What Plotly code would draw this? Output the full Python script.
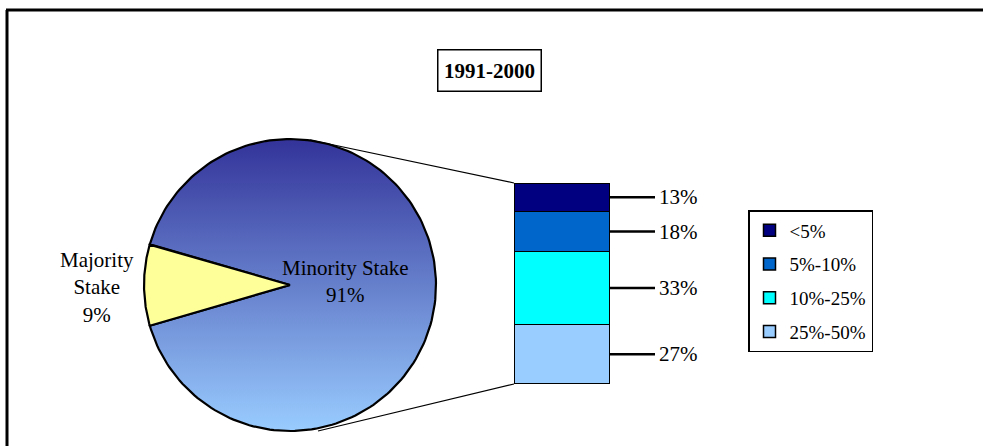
import numpy as np
import plotly.graph_objects as go

# ---- data ----
pie_labels = ["Majority Stake", "Minority Stake"]
pie_values = [9, 91]
bar_categories = ["25%-50%", "10%-25%", "5%-10%", "<5%"]   # bottom -> top
bar_values = [27, 33, 18, 13]
bar_colors = ["#99CCFF", "#00FFFF", "#0066CC", "#000080"]
title_text = "1991-2000"

W, H = 983, 446
FONT = "Liberation Serif"
FS = 21

fig = go.Figure()

# ---- pie drawn on a pixel-like axis (x right, y up) ----
cx, cy, R = 290, H - 285, 146
total = sum(pie_values)
maj_span = 360.0 * pie_values[0] / total
a0 = 180 - maj_span / 2
a1 = 180 + maj_span / 2

def wedge(start_deg, end_deg, n=200):
    t = np.radians(np.linspace(start_deg, end_deg, n))
    xs = np.concatenate([[cx], cx + R * np.cos(t), [cx]])
    ys = np.concatenate([[cy], cy + R * np.sin(t), [cy]])
    return xs, ys

# minority slice (gradient)
xs, ys = wedge(a1 - 360, a0)
fig.add_trace(go.Scatter(
    x=xs, y=ys, mode="lines", fill="toself",
    line=dict(color="black", width=2.2),
    fillgradient=dict(type="vertical", start=cy - R, stop=cy + R,
                      colorscale=[[0, "#99CCFF"], [1, "#333399"]]),
    xaxis="x", yaxis="y", showlegend=False, hoverinfo="skip"))
# majority slice
xs, ys = wedge(a0, a1)
fig.add_trace(go.Scatter(
    x=xs, y=ys, mode="lines", fill="toself", fillcolor="#FFFF99",
    line=dict(color="black", width=2.2),
    xaxis="x", yaxis="y", showlegend=False, hoverinfo="skip"))

# ---- stacked bar of the minority breakdown ----
bx0, bx1, by_top, by_bot = 514, 610, 183, 384
n = len(bar_categories)
for i, (cat, val, col) in enumerate(zip(bar_categories, bar_values, bar_colors)):
    fig.add_trace(go.Bar(
        x=[0], y=[val], name=cat, width=1,
        marker=dict(color=col, line=dict(color="black", width=1.5)),
        xaxis="x2", yaxis="y2", legendgroup=cat, legendrank=n - i))

shapes = []
annotations = []
cum = 0
for val in bar_values:
    mid = cum + val / 2
    cum += val
    shapes.append(dict(type="line", xref="paper", yref="y2",
                       x0=bx1 / W, x1=655 / W, y0=mid, y1=mid,
                       line=dict(color="black", width=2.5)))
    annotations.append(dict(xref="paper", yref="y2", x=657 / W, y=mid,
                            text=f"{val}%", showarrow=False, xanchor="left",
                            yanchor="middle",
                            font=dict(family=FONT, size=FS, color="black")))

# connector lines pie -> bar
shapes.append(dict(type="line", xref="x", yref="y", x0=310, y0=H - 140,
                   x1=bx0, y1=H - by_top, line=dict(color="black", width=1.2)))
shapes.append(dict(type="line", xref="x", yref="y", x0=318, y0=H - 431,
                   x1=bx0, y1=H - by_bot, line=dict(color="black", width=1.2)))

# outer frame (top and left edges)
shapes.append(dict(type="line", xref="paper", yref="paper", x0=6 / W, x1=1.0,
                   y0=(H - 10) / H, y1=(H - 10) / H,
                   line=dict(color="black", width=3)))
shapes.append(dict(type="line", xref="paper", yref="paper", x0=7 / W, x1=7 / W,
                   y0=0, y1=(H - 10) / H, line=dict(color="black", width=3)))

# pie labels
annotations.append(dict(xref="x", yref="y", x=97, y=H - 287,
                        text=f"{pie_labels[0].replace(' ', '<br>')}<br>{pie_values[0]}%",
                        showarrow=False, align="center", yanchor="middle",
                        font=dict(family=FONT, size=FS, color="black")))
annotations.append(dict(xref="x", yref="y", x=345, y=H - 281,
                        text=f"{pie_labels[1]}<br>{pie_values[1]}%",
                        showarrow=False, align="center", yanchor="middle",
                        font=dict(family=FONT, size=FS, color="black")))
# title box
annotations.append(dict(xref="paper", yref="paper", x=489 / W, y=(H - 70) / H,
                        xanchor="center", yanchor="middle",
                        text=f"<b>{title_text}</b>", showarrow=False,
                        width=96, height=34,
                        bordercolor="black", borderwidth=1.5, borderpad=3,
                        bgcolor="white",
                        font=dict(family=FONT, size=FS, color="black")))

fig.update_layout(
    width=W, height=H,
    margin=dict(l=0, r=0, t=0, b=0),
    paper_bgcolor="white", plot_bgcolor="rgba(0,0,0,0)",
    barmode="stack",
    xaxis=dict(domain=[0, 1], range=[0, W], visible=False, fixedrange=True),
    yaxis=dict(domain=[0, 1], range=[0, H], visible=False, fixedrange=True),
    xaxis2=dict(domain=[bx0 / W, bx1 / W], range=[-0.5, 0.5], visible=False,
                anchor="y2"),
    yaxis2=dict(domain=[(H - by_bot) / H, (H - by_top) / H],
                range=[0, sum(bar_values)], visible=False, anchor="x2"),
    legend=dict(x=748 / W, y=(H - 210) / H, xanchor="left", yanchor="top",
                traceorder="grouped", tracegroupgap=6,
                bordercolor="black", borderwidth=1.5, bgcolor="white",
                font=dict(family=FONT, size=19, color="black"),
                itemwidth=30),
    shapes=shapes,
    annotations=annotations,
    showlegend=True,
)

fig.write_html("out.html",
               config={"displayModeBar": False},
               post_script="document.body.style.margin='0';"
                           "document.body.style.overflow='hidden';")
